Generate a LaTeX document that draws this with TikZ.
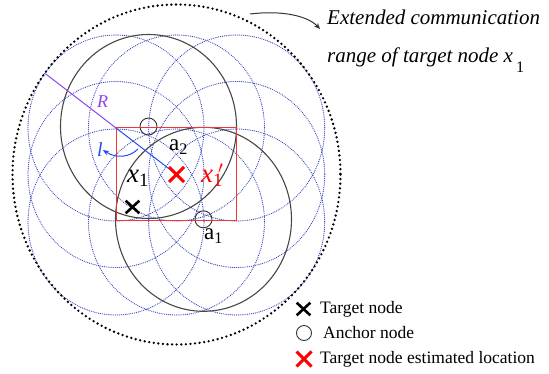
\documentclass[tikz,border=0pt]{standalone}
\usepackage{fontspec}
\setmainfont{LiberationSerif}[Extension=.ttf,UprightFont=*-Regular,ItalicFont=*-Italic,BoldFont=*-Bold,BoldItalicFont=*-BoldItalic]
\usetikzlibrary{arrows.meta,shapes.misc}
\definecolor{gridblue}{RGB}{50,65,185}
\definecolor{rlinecol}{RGB}{140,70,235}
\definecolor{llinecol}{RGB}{35,75,245}
\definecolor{boxred}{RGB}{240,55,55}
\begin{document}
\begin{tikzpicture}[x=1pt,y=-1pt,>={Stealth[length=6pt,width=5pt]},font=\rmfamily,
  gridcirc/.style={draw=gridblue,line width=1.2pt,dash pattern=on 0pt off 1.9pt,line cap=round},
  rangecirc/.style={draw=black!72,line width=1.1pt},
  extring/.style={draw=black,line width=2.6pt,dash pattern=on 0pt off 4.6pt,line cap=round},
  tgtmark/.style={cross out,draw=black,line width=2.6pt,minimum width=11pt,minimum height=10pt,inner sep=0pt},
  estmark/.style={cross out,draw=red,line width=3pt,minimum size=12pt,inner sep=0pt},
  ancmark/.style={circle,draw=black!80,line width=0.9pt,minimum size=17pt,inner sep=0pt},
  lbl/.style={anchor=base west,inner sep=0pt},
  legtext/.style={lbl,font=\rmfamily\fontsize{17.5}{18}\selectfont}]
\useasboundingbox (0,0) rectangle (549,374);
\coordinate (ctr) at (176.5,174.5); \coordinate (corner) at (116,128); \coordinate (edge) at (45.3,73.6);
\foreach \cx/\cy in {116/128,176.5/128,236.7/128,116/174.5,236.7/174.5,116/222,176.5/222,236.7/222}
  \draw[gridcirc] (\cx,\cy) ellipse[x radius=88,y radius=93];
\draw[extring] (ctr) ellipse[x radius=164,y radius=170];
\node[ancmark] (a2) at (148.5,126.5) {}; \node[ancmark] (a1) at (203.5,219.3) {};
\draw[rangecirc] (a2.center) ellipse[x radius=88,y radius=92]; \draw[rangecirc] (a1.center) ellipse[x radius=88,y radius=92];
\draw[boxred,line width=1pt] (corner) rectangle (236.7,221);
\draw[rlinecol,line width=1pt] (edge) -- (corner); \draw[llinecol,line width=1pt] (corner) -- (ctr);
\node[estmark] (est) at (ctr) {}; \node[tgtmark] (tgt) at (132.5,207) {};
\node[lbl,text=rlinecol,font=\rmfamily\fontsize{18}{18}\selectfont\itshape] (rlab) at (97,108) {R};
\node[lbl,text=llinecol,font=\rmfamily\fontsize{20}{20}\selectfont\itshape] (llab) at (97,157) {l};
\coordinate (ltail) at (138,149);
\draw[->,llinecol,line width=1pt] (ltail) .. controls (130,157) and (117,159) .. (llab.east);
\node[lbl,font=\rmfamily\fontsize{23}{23}\selectfont] (a2lab) at (169,151) {a\textsubscript{2}};
\node[lbl,font=\rmfamily\fontsize{23}{23}\selectfont] (a1lab) at (204,240) {a\textsubscript{1}};
\node[lbl,font=\rmfamily\fontsize{27}{27}\selectfont] (x1lab) at (127,183) {\textit{x}\textsubscript{1}};
\node[lbl,text=red,font=\rmfamily\fontsize{27}{27}\selectfont] (x1plab) at (201,183) {\textit{x}\textsubscript{1}\hspace{-5pt}$^{\prime}$};
\node[lbl,font=\rmfamily\fontsize{21}{24}\selectfont\itshape] (title1) at (327,25) {Extended communication};
\node[lbl,font=\rmfamily\fontsize{21}{24}\selectfont\itshape] (title2) at (327,63) {range of target node x\hspace{3pt}\raisebox{-10pt}{\upshape\fontsize{16}{16}\selectfont 1}};
\coordinate (arrtail) at (250,14); \coordinate (arrtip) at (320,29);
\draw[->,black!80,line width=1pt] (arrtail) .. controls (282,10) and (308,16) .. (arrtip);
\node[tgtmark] (legtgt) at (303.5,309) {}; \node[legtext] (legtgttxt) at (320,313) {Target node};
\node[ancmark,minimum size=15pt] (leganc) at (304,333) {}; \node[legtext] (legasctxt) at (323,338) {Anchor node};
\node[estmark] (legest) at (304,359) {}; \node[legtext] (legesttxt) at (320,363) {Target node estimated location};
\end{tikzpicture}
\end{document}
